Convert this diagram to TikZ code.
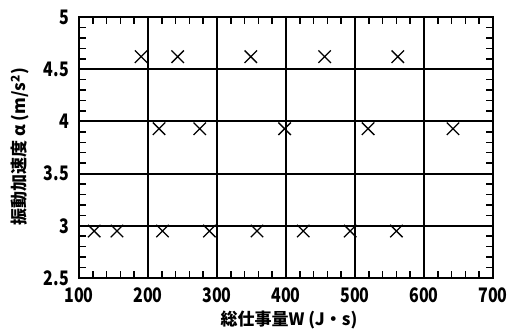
\documentclass[tikz,border=0pt]{standalone}
\usepackage{fontspec}
\usepackage{tikz}
\newfontfamily\jpfont{Noto Sans CJK JP}
\newfontfamily\numfont{Noto Sans CJK JP}[FakeStretch=0.8]
\tikzset{
	frameline/.style={line width=1.9pt},
	tickline/.style={line width=1.5pt},
	numlabel/.style={font=\numfont\bfseries\fontsize{20}{20}\selectfont,inner sep=0pt},
	axlabel/.style={font=\jpfont\bfseries\fontsize{17}{17}\selectfont,inner sep=0pt}
}
\begin{document}
\begin{tikzpicture}[x=1pt,y=1pt]
\useasboundingbox (0,0) rectangle (508,333);
\begin{scope}[shift={(10,-206)},x=0.69pt,y=104.4pt]
\draw [frameline] (100,2.5) rectangle (700,5);
\foreach \x in {200,300,...,600}
	\draw [frameline] (\x,2.5)--(\x,5);
\foreach \y in {3,3.5,4,4.5}
	\draw [frameline] (100,\y)--(700,\y);
\foreach \x in {120,140,...,680}
	\draw [tickline] (\x,2.5)--(\x,2.565) (\x,5)--(\x,4.935);
\foreach \y in {2.6,2.7,...,4.95}
	\draw [tickline] (100,\y)--(109.5,\y) (700,\y)--(690.5,\y);
\foreach \x in {100,200,...,700}
	\node[numlabel,anchor=north] at ([yshift=-9pt]\x,2.5) {\x};
\foreach \y/\t in {2.5/2.5,3/3,3.5/3.5,4/4,4.5/4.5,5/5}
	\node[numlabel,anchor=east] at ([xshift=-10pt]100,\y) {\t};
% measured points
\draw [line width=1.3pt] plot[only marks,mark=x,mark size=8.8pt] coordinates
	{(190,4.62) (243,4.62) (349,4.62) (456,4.62) (562,4.62)
	 (216,3.93) (275,3.93) (398,3.93) (519,3.93) (642,3.93)
	 (122,2.95) (155,2.95) (221,2.95) (289,2.95) (358,2.95) (425,2.95) (493,2.95) (560,2.95)};
\end{scope}
\node[axlabel] (xlab) at (289,13) {総仕事量W (J・s)};
\node[axlabel,rotate=90] (ylab) at (20,186) {振動加速度 α (m/s\textsuperscript{2})};
\end{tikzpicture}
\end{document}
